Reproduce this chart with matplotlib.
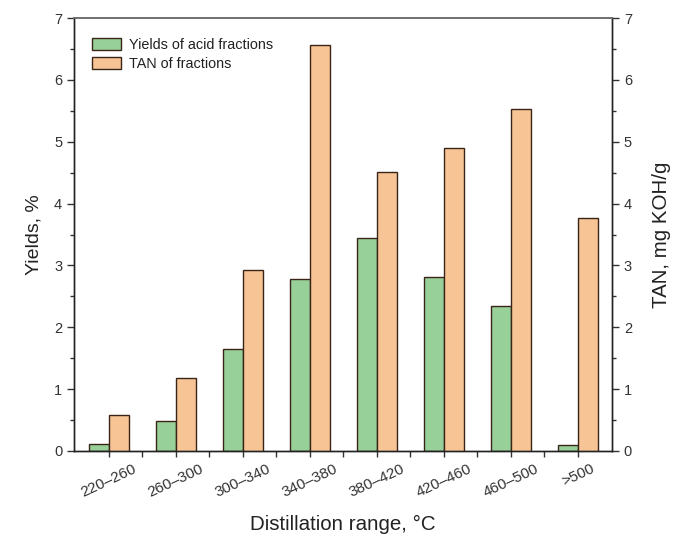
import numpy as np
import matplotlib
matplotlib.use("Agg")
import matplotlib.pyplot as plt
from matplotlib.ticker import MultipleLocator

plt.rcParams['font.family'] = ['Liberation Sans', 'DejaVu Sans']

ranges = ["220–260", "260–300", "300–340", "340–380",
          "380–420", "420–460", "460–500", ">500"]
yields = [0.11, 0.48, 1.65, 2.78, 3.44, 2.81, 2.34, 0.10]
tan = [0.58, 1.18, 2.93, 6.56, 4.51, 4.90, 5.53, 3.77]

green = "#98d09a"
orange = "#f7c595"
edge = "#3a2418"

fig = plt.figure(figsize=(6.75, 5.36), dpi=100)
ax = fig.add_axes([0.1096, 0.1586, 0.7971, 0.8078])
ax2 = ax.twinx()

x = np.arange(len(ranges))
w = 0.3
b1 = ax.bar(x - w/2, yields, w, color=green, edgecolor=edge, linewidth=1.0,
            label="Yields of acid fractions")
b2 = ax2.bar(x + w/2, tan, w, color=orange, edgecolor=edge, linewidth=1.0,
             label="TAN of fractions")

for a in (ax, ax2):
    a.set_ylim(0, 7)
    a.yaxis.set_major_locator(MultipleLocator(1))
    a.yaxis.set_minor_locator(MultipleLocator(0.5))
    a.tick_params(axis='y', which='major', length=5, width=1, labelsize=10.5,
                  colors='#333333', labelcolor='#333333')
    a.tick_params(axis='y', which='minor', length=3, width=1, colors='#333333')
ax.set_xlim(-0.52, 7.51)
ax.set_xticks(x)
ax.set_xticks(x[:-1] + 0.5, minor=True)
ax.set_xticklabels(ranges, rotation=25, ha='center', fontsize=11, color='#333333')
ax.tick_params(axis='x', which='both', length=4, width=1, colors='#333333')
ax.tick_params(axis='x', labelcolor='#333333')

for a in (ax, ax2):
    for s in ('left', 'right', 'bottom'):
        a.spines[s].set_color('#222222')
        a.spines[s].set_linewidth(1.0)
    a.spines['top'].set_color('#707070')
    a.spines['top'].set_linewidth(1.2)

ax.set_ylabel("Yields, %", fontsize=14, color='#222222', labelpad=8)
ax2.set_ylabel("TAN, mg KOH/g", fontsize=14.8, color='#222222', labelpad=14)
ax.set_xlabel("Distillation range, °C", fontsize=14.8, color='#222222', labelpad=11)

ax.legend(handles=[b1, b2], loc='upper left', bbox_to_anchor=(0.01, 0.985),
          frameon=False, fontsize=10.4, handlelength=2.0, handleheight=0.9,
          handletextpad=0.55, labelspacing=0.4, labelcolor='#222222')

fig.savefig("out.png", dpi=100)
